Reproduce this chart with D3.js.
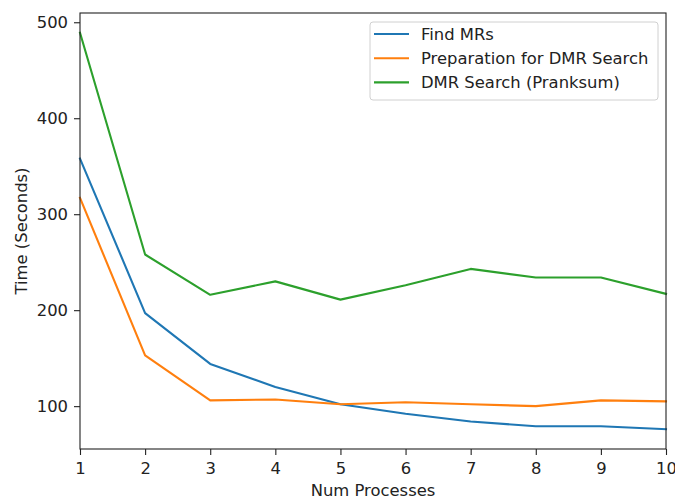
<!DOCTYPE html>
<html>
<head>
<meta charset="utf-8">
<script src="https://cdn.jsdelivr.net/npm/d3@7"></script>
<style>
  html, body { margin: 0; padding: 0; background: #fff; }
  svg { display: block; font-family: "DejaVu Sans", sans-serif; }
</style>
</head>
<body>
<svg id="chart" width="675" height="498"></svg>
<script>
// Timing per stage vs. number of processes
const processes = [1, 2, 3, 4, 5, 6, 7, 8, 9, 10];
const findMRs = [358, 197, 144, 120, 102, 92, 84, 79, 79, 76];
const prepDMR = [317, 153, 106, 107, 102, 104, 102, 100, 106, 105];
const dmrSearch = [489, 258, 216, 230, 211, 226, 243, 234, 234, 217];
const xTicks = [1, 2, 3, 4, 5, 6, 7, 8, 9, 10];
const yTicks = [100, 200, 300, 400, 500];
const seriesNames = ["Find MRs", "Preparation for DMR Search", "DMR Search (Pranksum)"];
const colors = ["#1f77b4", "#ff7f0e", "#2ca02c"];

const series = [findMRs, prepDMR, dmrSearch].map((vals, i) => ({
  name: seriesNames[i],
  color: colors[i],
  points: processes.map((p, j) => ({ x: p, y: vals[j] }))
}));

const svg = d3.select("#chart");
const plotLeft = 80, plotRight = 666, plotTop = 13, plotBottom = 449;

// y domain with 5% padding around the data
const allY = [].concat(findMRs, prepDMR, dmrSearch);
const yMin = d3.min(allY), yMax = d3.max(allY);
const pad = (yMax - yMin) * 0.05;

const x = d3.scaleLinear().domain([1, 10]).range([plotLeft, plotRight]);
const y = d3.scaleLinear().domain([yMin - pad, yMax + pad]).range([plotBottom, plotTop]);

const fontSize = "16.4px";
const axisColor = "#222";

// series lines
const line = d3.line().x(d => x(d.x)).y(d => y(d.y));
const plot = svg.append("g");
series.forEach(s => {
  plot.append("path")
    .datum(s.points)
    .attr("fill", "none")
    .attr("stroke", s.color)
    .attr("stroke-width", 2.1)
    .attr("stroke-linejoin", "round")
    .attr("stroke-linecap", "square")
    .attr("d", line);
});

// axes
const xAxis = d3.axisBottom(x).tickValues(xTicks).tickFormat(d3.format("d")).tickSize(6).tickPadding(7.5);
const yAxis = d3.axisLeft(y).tickValues(yTicks).tickFormat(d3.format("d")).tickSize(6).tickPadding(6);

const gx = svg.append("g").attr("transform", `translate(0,${plotBottom})`).call(xAxis);
const gy = svg.append("g").attr("transform", `translate(${plotLeft},0)`).call(yAxis);
[gx, gy].forEach(g => {
  g.select(".domain").remove();
  g.selectAll(".tick line").attr("stroke", axisColor).attr("stroke-width", 1.1);
  g.selectAll(".tick text").attr("fill", axisColor).style("font-size", fontSize)
    .style("font-family", "DejaVu Sans, sans-serif");
});

// frame
svg.append("rect")
  .attr("x", plotLeft).attr("y", plotTop)
  .attr("width", plotRight - plotLeft).attr("height", plotBottom - plotTop)
  .attr("fill", "none").attr("stroke", axisColor).attr("stroke-width", 1.1);

// axis titles
svg.append("text")
  .attr("x", (plotLeft + plotRight) / 2).attr("y", 496)
  .attr("text-anchor", "middle").attr("fill", axisColor)
  .style("font-size", fontSize)
  .text("Num Processes");

svg.append("text")
  .attr("transform", `translate(26.5,${(plotTop + plotBottom) / 2}) rotate(-90)`)
  .attr("text-anchor", "middle").attr("fill", axisColor)
  .style("font-size", fontSize)
  .text("Time (Seconds)");

// legend
const legend = svg.append("g");
legend.append("rect")
  .attr("x", 370).attr("y", 22)
  .attr("width", 288).attr("height", 78)
  .attr("rx", 3).attr("ry", 3)
  .attr("fill", "#fff").attr("fill-opacity", 0.8)
  .attr("stroke", "#d0d0d0").attr("stroke-width", 1);

series.forEach((s, i) => {
  const cy = 34 + i * 24.2;
  legend.append("line")
    .attr("x1", 374).attr("x2", 409)
    .attr("y1", cy).attr("y2", cy)
    .attr("stroke", s.color).attr("stroke-width", 2.1);
  legend.append("text")
    .attr("x", 421).attr("y", cy + 6)
    .attr("fill", axisColor)
    .style("font-size", fontSize)
    .text(s.name);
});
</script>
</body>
</html>
